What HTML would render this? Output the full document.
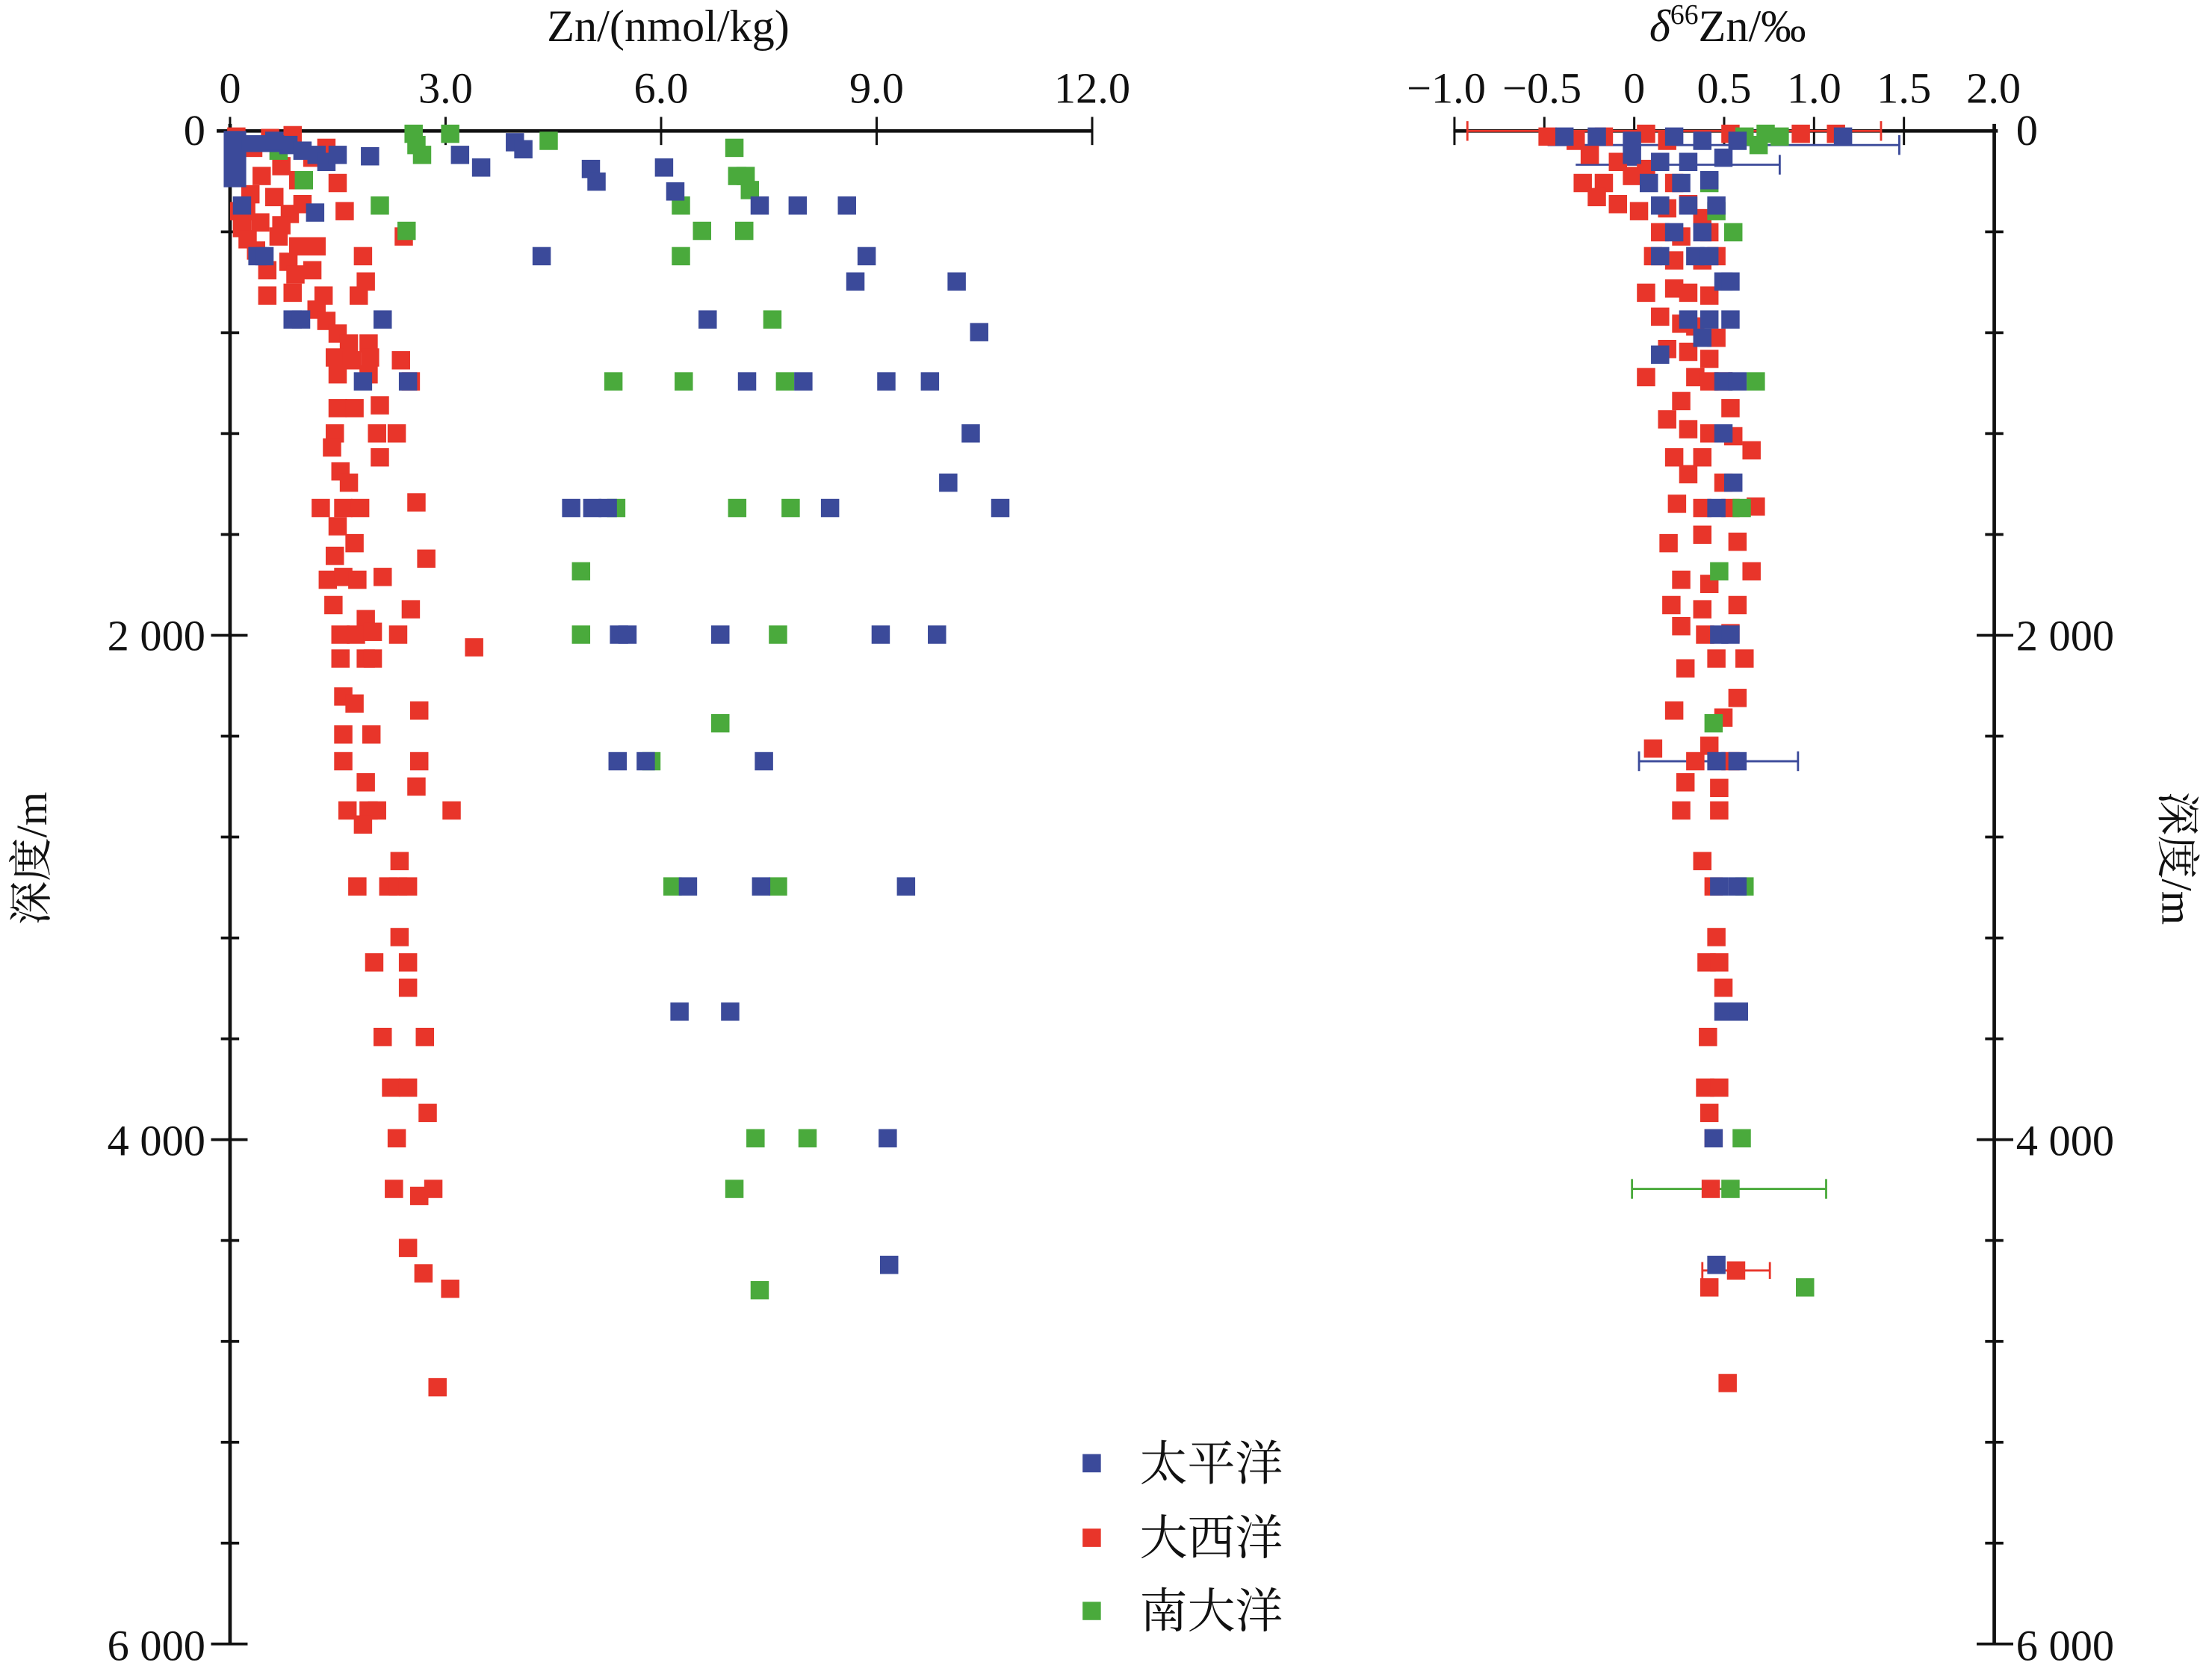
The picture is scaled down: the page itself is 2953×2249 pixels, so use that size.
<!DOCTYPE html>
<html><head><meta charset="utf-8"><style>
html,body{margin:0;padding:0;background:#fff;}
svg{display:block;}
text{font-family:"Liberation Serif","Noto Serif CJK SC",serif;fill:#111;}
</style></head><body>
<svg width="2953" height="2249" viewBox="0 0 1568 1194" xmlns="http://www.w3.org/2000/svg">
<defs>
<rect id="b" x="-6.5" y="-6.5" width="13" height="13" fill="#3b4a9a"/>
<rect id="r" x="-6.5" y="-6.5" width="13" height="13" fill="#e8352a"/>
<rect id="g" x="-6.5" y="-6.5" width="13" height="13" fill="#4aaa3c"/>
</defs>
<text x="475" y="29" font-size="32" text-anchor="middle">Zn/(nmol/kg)</text>
<text x="1228" y="29" font-size="32" text-anchor="middle"><tspan font-style="italic">δ</tspan><tspan font-size="20" dy="-12">66</tspan><tspan dy="12">Zn/‰</tspan></text>
<g stroke="#111" stroke-width="2.5" fill="none">
<line x1="154" y1="93" x2="777" y2="93"/>
<line x1="163.5" y1="88" x2="163.5" y2="1169"/>
<line x1="1033" y1="93" x2="1420" y2="93"/>
<line x1="1417.5" y1="88" x2="1417.5" y2="1169"/>
</g>
<g stroke="#111" stroke-width="1.6">
<line x1="163.5" y1="83" x2="163.5" y2="103"/><line x1="316.7" y1="83" x2="316.7" y2="103"/><line x1="469.9" y1="83" x2="469.9" y2="103"/><line x1="623.1" y1="83" x2="623.1" y2="103"/><line x1="776.3" y1="83" x2="776.3" y2="103"/>
<line x1="1033.8" y1="83" x2="1033.8" y2="103"/><line x1="1097.7" y1="83" x2="1097.7" y2="103"/><line x1="1161.6" y1="83" x2="1161.6" y2="103"/><line x1="1225.5" y1="83" x2="1225.5" y2="103"/><line x1="1289.4" y1="83" x2="1289.4" y2="103"/><line x1="1353.3" y1="83" x2="1353.3" y2="103"/>
</g>
<g stroke="#111" stroke-width="2">
<line x1="157" y1="164.7" x2="170" y2="164.7"/><line x1="157" y1="236.4" x2="170" y2="236.4"/><line x1="157" y1="308.1" x2="170" y2="308.1"/><line x1="157" y1="379.8" x2="170" y2="379.8"/>
<line x1="150" y1="451.5" x2="176" y2="451.5"/>
<line x1="157" y1="523.2" x2="170" y2="523.2"/><line x1="157" y1="594.9" x2="170" y2="594.9"/><line x1="157" y1="666.6" x2="170" y2="666.6"/><line x1="157" y1="738.3" x2="170" y2="738.3"/>
<line x1="150" y1="810" x2="176" y2="810"/>
<line x1="157" y1="881.7" x2="170" y2="881.7"/><line x1="157" y1="953.4" x2="170" y2="953.4"/><line x1="157" y1="1025.1" x2="170" y2="1025.1"/><line x1="157" y1="1096.8" x2="170" y2="1096.8"/>
<line x1="150" y1="1168.5" x2="176" y2="1168.5"/>
<line x1="1411" y1="164.7" x2="1424" y2="164.7"/><line x1="1411" y1="236.4" x2="1424" y2="236.4"/><line x1="1411" y1="308.1" x2="1424" y2="308.1"/><line x1="1411" y1="379.8" x2="1424" y2="379.8"/>
<line x1="1405" y1="451.5" x2="1431" y2="451.5"/>
<line x1="1411" y1="523.2" x2="1424" y2="523.2"/><line x1="1411" y1="594.9" x2="1424" y2="594.9"/><line x1="1411" y1="666.6" x2="1424" y2="666.6"/><line x1="1411" y1="738.3" x2="1424" y2="738.3"/>
<line x1="1405" y1="810" x2="1431" y2="810"/>
<line x1="1411" y1="881.7" x2="1424" y2="881.7"/><line x1="1411" y1="953.4" x2="1424" y2="953.4"/><line x1="1411" y1="1025.1" x2="1424" y2="1025.1"/><line x1="1411" y1="1096.8" x2="1424" y2="1096.8"/>
<line x1="1405" y1="1168.5" x2="1431" y2="1168.5"/>
</g>
<g font-size="31" text-anchor="middle">
<text x="163.5" y="73">0</text><text x="316.7" y="73">3.0</text><text x="469.9" y="73">6.0</text><text x="623.1" y="73">9.0</text><text x="776.3" y="73">12.0</text>
<text x="1028" y="73">−1.0</text><text x="1096" y="73">−0.5</text><text x="1161.6" y="73">0</text><text x="1225.5" y="73">0.5</text><text x="1289.4" y="73">1.0</text><text x="1353.3" y="73">1.5</text><text x="1417" y="73">2.0</text>
</g>
<g font-size="31" text-anchor="end">
<text x="146" y="103">0</text><text x="146" y="462">2 000</text><text x="146" y="821">4 000</text><text x="146" y="1180">6 000</text>
</g>
<g font-size="31">
<text x="1433" y="103">0</text><text x="1433" y="462">2 000</text><text x="1433" y="821">4 000</text><text x="1433" y="1180">6 000</text>
</g>
<text font-size="31" transform="translate(33,610) rotate(-90)" text-anchor="middle">深度/m</text>
<text font-size="31" transform="translate(1537,610) rotate(90)" text-anchor="middle">深度/m</text>
<use href="#b" x="776" y="1040"/><use href="#r" x="776" y="1093"/><use href="#g" x="776" y="1145"/>
<g font-size="34"><text x="810" y="1052">太平洋</text><text x="810" y="1105">大西洋</text><text x="810" y="1157">南大洋</text></g>

<!-- LEFT red -->
<g>
<use href="#r" x="168" y="97"/><use href="#r" x="180" y="105"/><use href="#r" x="192" y="98"/><use href="#r" x="208" y="96"/><use href="#r" x="222" y="112"/><use href="#r" x="200" y="118"/><use href="#r" x="186" y="125"/><use href="#r" x="212" y="128"/><use href="#r" x="178" y="138"/><use href="#r" x="195" y="140"/><use href="#r" x="206" y="152"/><use href="#r" x="185" y="158"/><use href="#r" x="172" y="162"/><use href="#r" x="198" y="168"/><use href="#r" x="212" y="175"/><use href="#r" x="182" y="178"/><use href="#r" x="205" y="186"/><use href="#r" x="168" y="120"/><use href="#r" x="175" y="150"/>
<use href="#r" x="170" y="150"/><use href="#r" x="176" y="170"/><use href="#r" x="190" y="192"/><use href="#r" x="200" y="160"/><use href="#r" x="215" y="145"/><use href="#r" x="225" y="175"/><use href="#r" x="240" y="130"/><use href="#r" x="232" y="105"/><use href="#r" x="245" y="150"/><use href="#r" x="210" y="195"/><use href="#r" x="190" y="210"/>
<use href="#r" x="287" y="168"/><use href="#r" x="258" y="182"/><use href="#r" x="260" y="200"/><use href="#r" x="255" y="210"/><use href="#r" x="230" y="210"/><use href="#r" x="222" y="192"/><use href="#r" x="208" y="208"/><use href="#r" x="225" y="220"/><use href="#r" x="232" y="228"/><use href="#r" x="240" y="237"/><use href="#r" x="248" y="244"/><use href="#r" x="262" y="244"/><use href="#r" x="238" y="254"/><use href="#r" x="250" y="256"/><use href="#r" x="263" y="254"/><use href="#r" x="285" y="256"/><use href="#r" x="240" y="266"/><use href="#r" x="262" y="266"/><use href="#r" x="292" y="271"/><use href="#r" x="240" y="290"/><use href="#r" x="252" y="290"/><use href="#r" x="270" y="288"/><use href="#r" x="238" y="308"/><use href="#r" x="268" y="308"/><use href="#r" x="282" y="308"/><use href="#r" x="236" y="318"/><use href="#r" x="270" y="325"/><use href="#r" x="242" y="335"/><use href="#r" x="248" y="343"/><use href="#r" x="228" y="361"/><use href="#r" x="244" y="361"/><use href="#r" x="256" y="361"/><use href="#r" x="296" y="357"/><use href="#r" x="240" y="374"/><use href="#r" x="252" y="386"/><use href="#r" x="238" y="395"/><use href="#r" x="303" y="397"/><use href="#r" x="233" y="412"/><use href="#r" x="244" y="410"/><use href="#r" x="254" y="412"/><use href="#r" x="272" y="410"/><use href="#r" x="237" y="430"/><use href="#r" x="260" y="440"/><use href="#r" x="292" y="433"/><use href="#r" x="242" y="451"/><use href="#r" x="253" y="451"/><use href="#r" x="265" y="449"/><use href="#r" x="283" y="451"/><use href="#r" x="337" y="460"/><use href="#r" x="242" y="468"/><use href="#r" x="260" y="468"/><use href="#r" x="265" y="468"/><use href="#r" x="244" y="495"/><use href="#r" x="252" y="500"/><use href="#r" x="298" y="505"/><use href="#r" x="244" y="522"/><use href="#r" x="264" y="522"/><use href="#r" x="298" y="541"/><use href="#r" x="244" y="541"/><use href="#r" x="260" y="556"/><use href="#r" x="296" y="559"/><use href="#r" x="247" y="576"/><use href="#r" x="262" y="576"/><use href="#r" x="268" y="576"/><use href="#r" x="321" y="576"/><use href="#r" x="258" y="586"/><use href="#r" x="284" y="612"/><use href="#r" x="254" y="630"/><use href="#r" x="276" y="630"/><use href="#r" x="283" y="630"/><use href="#r" x="290" y="630"/><use href="#r" x="284" y="666"/><use href="#r" x="266" y="684"/><use href="#r" x="290" y="684"/><use href="#r" x="290" y="702"/><use href="#r" x="272" y="737"/><use href="#r" x="302" y="737"/><use href="#r" x="278" y="773"/><use href="#r" x="290" y="773"/><use href="#r" x="304" y="791"/><use href="#r" x="282" y="809"/><use href="#r" x="280" y="845"/><use href="#r" x="298" y="850"/><use href="#r" x="308" y="845"/><use href="#r" x="290" y="887"/><use href="#r" x="301" y="905"/><use href="#r" x="320" y="916"/><use href="#r" x="311" y="986"/>
</g>
<g>
<use href="#g" x="294" y="95"/><use href="#g" x="296" y="103"/><use href="#g" x="300" y="110"/><use href="#g" x="320" y="95"/><use href="#g" x="390" y="100"/><use href="#g" x="522" y="105"/><use href="#g" x="530" y="125"/><use href="#g" x="524" y="125"/><use href="#g" x="533" y="135"/><use href="#g" x="484" y="146"/><use href="#g" x="499" y="164"/><use href="#g" x="529" y="164"/><use href="#g" x="484" y="182"/><use href="#g" x="270" y="146"/><use href="#g" x="289" y="164"/><use href="#g" x="216" y="128"/><use href="#g" x="198" y="107"/><use href="#g" x="549" y="227"/><use href="#g" x="436" y="271"/><use href="#g" x="486" y="271"/><use href="#g" x="558" y="271"/><use href="#g" x="438" y="361"/><use href="#g" x="524" y="361"/><use href="#g" x="562" y="361"/><use href="#g" x="413" y="406"/><use href="#g" x="413" y="451"/><use href="#g" x="553" y="451"/><use href="#g" x="512" y="514"/><use href="#g" x="463" y="541"/><use href="#g" x="478" y="630"/><use href="#g" x="553" y="630"/><use href="#g" x="537" y="809"/><use href="#g" x="574" y="809"/><use href="#g" x="522" y="845"/><use href="#g" x="540" y="917"/>
</g>
<g>
<rect x="159" y="93" width="16" height="40" fill="#3b4a9a"/>
<rect x="172" y="96" width="30" height="12" fill="#3b4a9a"/>
<use href="#b" x="205" y="103"/><use href="#b" x="215" y="107"/><use href="#b" x="225" y="110"/><use href="#b" x="232" y="115"/><use href="#b" x="195" y="100"/>
<use href="#b" x="240" y="110"/><use href="#b" x="263" y="111"/><use href="#b" x="327" y="110"/><use href="#b" x="342" y="119"/><use href="#b" x="366" y="101"/><use href="#b" x="372" y="106"/><use href="#b" x="420" y="120"/><use href="#b" x="424" y="129"/><use href="#b" x="472" y="119"/><use href="#b" x="480" y="136"/><use href="#b" x="540" y="146"/><use href="#b" x="567" y="146"/><use href="#b" x="602" y="146"/><use href="#b" x="385" y="182"/><use href="#b" x="616" y="182"/><use href="#b" x="608" y="200"/><use href="#b" x="680" y="200"/><use href="#b" x="224" y="151"/><use href="#b" x="183" y="182"/><use href="#b" x="188" y="182"/><use href="#b" x="172" y="146"/><use href="#b" x="208" y="227"/><use href="#b" x="214" y="227"/><use href="#b" x="272" y="227"/><use href="#b" x="503" y="227"/><use href="#b" x="696" y="236"/><use href="#b" x="258" y="271"/><use href="#b" x="290" y="271"/><use href="#b" x="531" y="271"/><use href="#b" x="571" y="271"/><use href="#b" x="630" y="271"/><use href="#b" x="661" y="271"/><use href="#b" x="690" y="308"/><use href="#b" x="674" y="343"/><use href="#b" x="406" y="361"/><use href="#b" x="421" y="361"/><use href="#b" x="432" y="361"/><use href="#b" x="590" y="361"/><use href="#b" x="711" y="361"/><use href="#b" x="440" y="451"/><use href="#b" x="446" y="451"/><use href="#b" x="512" y="451"/><use href="#b" x="626" y="451"/><use href="#b" x="666" y="451"/><use href="#b" x="439" y="541"/><use href="#b" x="459" y="541"/><use href="#b" x="543" y="541"/><use href="#b" x="489" y="630"/><use href="#b" x="541" y="630"/><use href="#b" x="644" y="630"/><use href="#b" x="483" y="719"/><use href="#b" x="519" y="719"/><use href="#b" x="631" y="809"/><use href="#b" x="632" y="899"/>
</g>

<g stroke-width="1.5">
<line x1="1043" y1="93" x2="1337" y2="93" stroke="#e8352a"/><line x1="1043" y1="86" x2="1043" y2="100" stroke="#e8352a"/><line x1="1337" y1="86" x2="1337" y2="100" stroke="#e8352a"/>
<line x1="1210" y1="903" x2="1258" y2="903" stroke="#e8352a"/><line x1="1210" y1="897" x2="1210" y2="909" stroke="#e8352a"/><line x1="1258" y1="897" x2="1258" y2="909" stroke="#e8352a"/>
<line x1="1100" y1="103" x2="1350" y2="103" stroke="#3b4a9a"/><line x1="1350" y1="96" x2="1350" y2="110" stroke="#3b4a9a"/>
<line x1="1120" y1="117" x2="1265" y2="117" stroke="#3b4a9a"/><line x1="1265" y1="110" x2="1265" y2="124" stroke="#3b4a9a"/>
<line x1="1165" y1="541" x2="1278" y2="541" stroke="#3b4a9a"/><line x1="1165" y1="534" x2="1165" y2="548" stroke="#3b4a9a"/><line x1="1278" y1="534" x2="1278" y2="548" stroke="#3b4a9a"/>
<line x1="1160" y1="845" x2="1298" y2="845" stroke="#4aaa3c"/><line x1="1160" y1="838" x2="1160" y2="852" stroke="#4aaa3c"/><line x1="1298" y1="838" x2="1298" y2="852" stroke="#4aaa3c"/>
</g>
<g>
<use href="#r" x="1100" y="97"/><use href="#r" x="1120" y="100"/><use href="#r" x="1140" y="97"/><use href="#r" x="1170" y="95"/><use href="#r" x="1185" y="100"/><use href="#r" x="1230" y="95"/><use href="#r" x="1280" y="95"/><use href="#r" x="1305" y="95"/><use href="#r" x="1130" y="110"/><use href="#r" x="1150" y="115"/><use href="#r" x="1170" y="120"/><use href="#r" x="1125" y="130"/><use href="#r" x="1140" y="130"/><use href="#r" x="1160" y="125"/><use href="#r" x="1190" y="130"/><use href="#r" x="1135" y="140"/><use href="#r" x="1150" y="145"/><use href="#r" x="1165" y="150"/><use href="#r" x="1185" y="148"/><use href="#r" x="1200" y="145"/><use href="#r" x="1210" y="155"/><use href="#r" x="1180" y="165"/><use href="#r" x="1195" y="168"/><use href="#r" x="1215" y="165"/><use href="#r" x="1175" y="182"/><use href="#r" x="1190" y="185"/><use href="#r" x="1210" y="185"/><use href="#r" x="1220" y="182"/><use href="#r" x="1170" y="208"/><use href="#r" x="1190" y="205"/><use href="#r" x="1200" y="208"/><use href="#r" x="1215" y="210"/><use href="#r" x="1180" y="225"/><use href="#r" x="1195" y="230"/><use href="#r" x="1205" y="232"/><use href="#r" x="1220" y="240"/><use href="#r" x="1185" y="248"/><use href="#r" x="1200" y="250"/><use href="#r" x="1215" y="255"/><use href="#r" x="1170" y="268"/><use href="#r" x="1205" y="268"/><use href="#r" x="1215" y="271"/><use href="#r" x="1225" y="271"/><use href="#r" x="1185" y="298"/><use href="#r" x="1195" y="285"/><use href="#r" x="1230" y="290"/><use href="#r" x="1200" y="305"/><use href="#r" x="1215" y="308"/><use href="#r" x="1232" y="310"/><use href="#r" x="1190" y="325"/><use href="#r" x="1210" y="325"/><use href="#r" x="1245" y="320"/><use href="#r" x="1200" y="337"/><use href="#r" x="1225" y="343"/><use href="#r" x="1192" y="358"/><use href="#r" x="1210" y="361"/><use href="#r" x="1230" y="361"/><use href="#r" x="1248" y="360"/><use href="#r" x="1186" y="386"/><use href="#r" x="1210" y="380"/><use href="#r" x="1235" y="385"/><use href="#r" x="1195" y="412"/><use href="#r" x="1215" y="415"/><use href="#r" x="1245" y="406"/><use href="#r" x="1188" y="430"/><use href="#r" x="1210" y="433"/><use href="#r" x="1235" y="430"/><use href="#r" x="1195" y="445"/><use href="#r" x="1212" y="451"/><use href="#r" x="1230" y="450"/><use href="#r" x="1220" y="468"/><use href="#r" x="1240" y="468"/><use href="#r" x="1198" y="475"/><use href="#r" x="1190" y="505"/><use href="#r" x="1235" y="496"/><use href="#r" x="1225" y="510"/><use href="#r" x="1175" y="532"/><use href="#r" x="1215" y="530"/><use href="#r" x="1205" y="541"/><use href="#r" x="1230" y="541"/><use href="#r" x="1198" y="556"/><use href="#r" x="1222" y="560"/><use href="#r" x="1195" y="576"/><use href="#r" x="1222" y="576"/><use href="#r" x="1210" y="612"/><use href="#r" x="1218" y="630"/><use href="#r" x="1220" y="666"/><use href="#r" x="1213" y="684"/><use href="#r" x="1222" y="684"/><use href="#r" x="1225" y="702"/><use href="#r" x="1214" y="737"/><use href="#r" x="1212" y="773"/><use href="#r" x="1222" y="773"/><use href="#r" x="1215" y="791"/><use href="#r" x="1218" y="809"/><use href="#r" x="1216" y="845"/><use href="#r" x="1234" y="903"/><use href="#r" x="1215" y="915"/><use href="#r" x="1228" y="983"/>
</g>
<g>
<use href="#g" x="1240" y="97"/><use href="#g" x="1255" y="95"/><use href="#g" x="1265" y="97"/><use href="#g" x="1250" y="103"/><use href="#g" x="1215" y="130"/><use href="#g" x="1220" y="150"/><use href="#g" x="1232" y="165"/><use href="#g" x="1248" y="271"/><use href="#g" x="1238" y="361"/><use href="#g" x="1222" y="406"/><use href="#g" x="1218" y="514"/><use href="#g" x="1240" y="630"/><use href="#g" x="1238" y="809"/><use href="#g" x="1230" y="845"/><use href="#g" x="1283" y="915"/>
</g>
<g>
<use href="#b" x="1112" y="97"/><use href="#b" x="1135" y="97"/><use href="#b" x="1160" y="100"/><use href="#b" x="1190" y="97"/><use href="#b" x="1210" y="100"/><use href="#b" x="1235" y="100"/><use href="#b" x="1310" y="97"/><use href="#b" x="1160" y="110"/><use href="#b" x="1180" y="115"/><use href="#b" x="1200" y="115"/><use href="#b" x="1225" y="112"/><use href="#b" x="1172" y="130"/><use href="#b" x="1195" y="130"/><use href="#b" x="1215" y="128"/><use href="#b" x="1180" y="146"/><use href="#b" x="1200" y="146"/><use href="#b" x="1220" y="146"/><use href="#b" x="1190" y="165"/><use href="#b" x="1210" y="165"/><use href="#b" x="1180" y="182"/><use href="#b" x="1205" y="182"/><use href="#b" x="1215" y="182"/><use href="#b" x="1225" y="200"/><use href="#b" x="1230" y="200"/><use href="#b" x="1200" y="227"/><use href="#b" x="1215" y="227"/><use href="#b" x="1230" y="227"/><use href="#b" x="1210" y="240"/><use href="#b" x="1180" y="252"/><use href="#b" x="1225" y="271"/><use href="#b" x="1235" y="271"/><use href="#b" x="1225" y="308"/><use href="#b" x="1232" y="343"/><use href="#b" x="1220" y="361"/><use href="#b" x="1222" y="451"/><use href="#b" x="1230" y="451"/><use href="#b" x="1220" y="541"/><use href="#b" x="1235" y="541"/><use href="#b" x="1222" y="630"/><use href="#b" x="1235" y="630"/><use href="#b" x="1225" y="719"/><use href="#b" x="1236" y="719"/><use href="#b" x="1218" y="809"/><use href="#b" x="1220" y="899"/>
</g>
</svg>
</body></html>
